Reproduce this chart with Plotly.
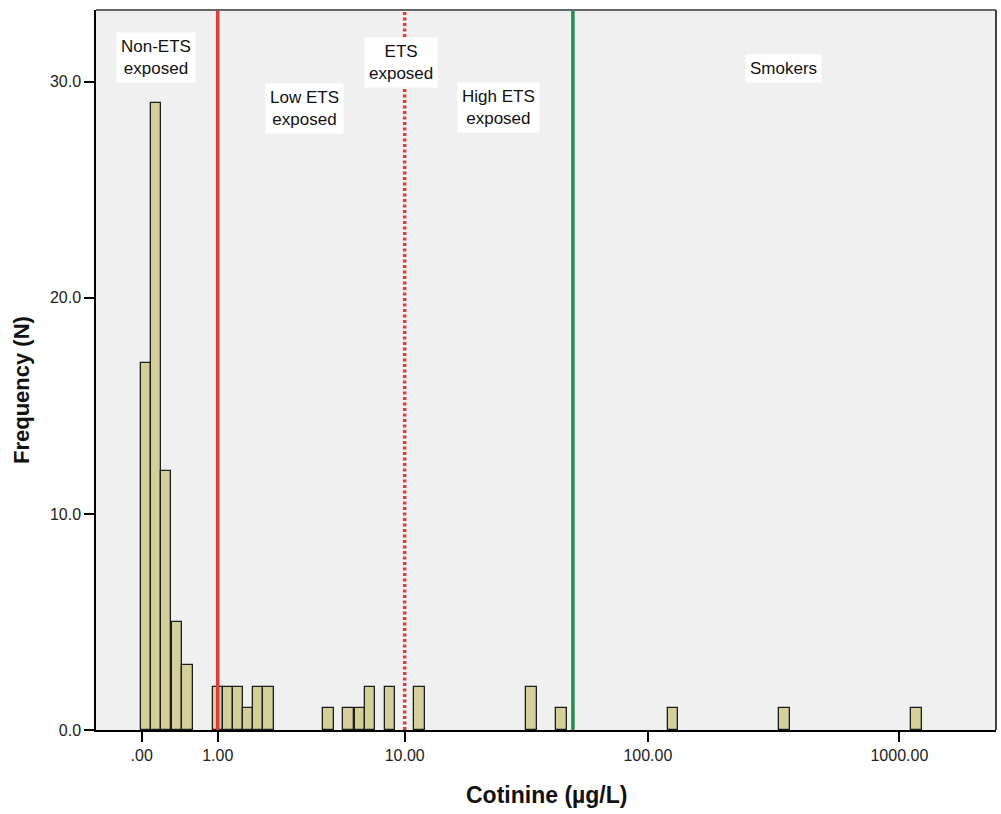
import numpy as np
import plotly.graph_objects as go

# Histogram bins (bin centre, µg/L) and their frequencies
bin_centres_ugL = [0.04, 0.14, 0.25, 0.38, 0.52,
                   1.00, 1.19, 1.40, 1.63, 1.89, 2.18,
                   4.5, 5.6, 6.3, 7.0, 8.6, 11.6,
                   34.0, 45.0, 126.0, 350.0, 1170.0]
frequencies = [17, 29, 12, 5, 3,
               2, 2, 2, 1, 2, 2,
               1, 1, 1, 2, 2, 2,
               2, 1, 1, 1, 1]

# Axis ticks (µg/L) and labels
x_tick_values = [0, 1, 10, 100, 1000]
x_tick_labels = [".00", "1.00", "10.00", "100.00", "1000.00"]
y_tick_values = [0, 10, 20, 30]

# Exposure cut-offs (µg/L)
cutoff_values = [1, 10, 50]
cutoff_colors = ["#e33b3b", "#e33b3b", "#1f9147"]
cutoff_dashes = ["solid", "3px,2.5px", "solid"]

# Region labels
region_labels = ["Non-ETS<br>exposed", "Low ETS<br>exposed", "ETS<br>exposed",
                 "High ETS<br>exposed", "Smokers"]

FONT = "Liberation Sans, Arial, sans-serif"
BIN_W = 0.041  # bin width on the log10(x + 1) scale

# Figure geometry (pixels)
W, H = 1001, 814
L, R, T, B = 96, 5, 10, 84
PW, PH = W - L - R, H - T - B


def tx(v):
    """Cotinine value -> log10(x + 1) axis coordinate."""
    return np.log10(np.asarray(v, dtype=float) + 1.0)


def px(xp):
    return (xp - L) / PW


def py(yp):
    return (T + PH - yp) / PH


fig = go.Figure()
fig.add_trace(go.Bar(
    x=tx(bin_centres_ugL), y=frequencies, width=BIN_W,
    marker=dict(color="#d4cf98", line=dict(color="#1c1c1c", width=1.3)),
    hoverinfo="x+y", showlegend=False,
))

shapes = []
# cut-off lines
for v, c, d in zip(cutoff_values, cutoff_colors, cutoff_dashes):
    shapes.append(dict(type="line", xref="x", yref="paper", x0=float(tx(v)), x1=float(tx(v)),
                       y0=0, y1=1, layer="above", line=dict(color=c, width=3.5, dash=d)))

# label placement: centre x, centre y (pixels)
label_layout = [(156, 58), (304, 109), (401, 62.5), (498.5, 108), (783, 68)]
annotations = []
for text, (cx, cy) in zip(region_labels, label_layout):
    annotations.append(dict(text=text, xref="paper", yref="paper", x=px(cx), y=py(cy),
                            xanchor="center", yanchor="middle", showarrow=False,
                            bgcolor="white", borderpad=4,
                            font=dict(family=FONT, size=17, color="#111")))

# top / right frame
shapes.append(dict(type="line", xref="paper", yref="paper", x0=0, x1=1, y0=1, y1=1,
                   line=dict(color="#666", width=2), layer="above"))
shapes.append(dict(type="line", xref="paper", yref="paper", x0=1, x1=1, y0=0, y1=1,
                   line=dict(color="#444", width=2), layer="above"))

# axis titles
annotations.append(dict(text="<b>Cotinine (µg/L)</b>", xref="paper", yref="paper",
                        x=px(546), y=py(795), xanchor="center", yanchor="middle",
                        showarrow=False, font=dict(family=FONT, size=23, color="#111")))
annotations.append(dict(text="<b>Frequency (N)</b>", xref="paper", yref="paper",
                        x=px(21), y=py(390), xanchor="center", yanchor="middle",
                        textangle=-90, showarrow=False,
                        font=dict(family=FONT, size=22, color="#111")))

axis_common = dict(showgrid=False, zeroline=False, showline=True, linecolor="black",
                   linewidth=1.5, ticks="outside", ticklen=10, tickwidth=1.5,
                   tickcolor="black", tickfont=dict(family=FONT, size=16, color="#222"))

fig.update_layout(
    width=W, height=H, autosize=False,
    margin=dict(l=L, r=R, t=T, b=B, pad=0),
    paper_bgcolor="white", plot_bgcolor="#f0f0f0",
    xaxis=dict(range=[float(tx(0)) - 0.181, 3.383],
               tickvals=tx(x_tick_values), ticktext=x_tick_labels, **axis_common),
    yaxis=dict(range=[0, 33.32], tickvals=y_tick_values, tickformat=".1f", **axis_common),
    shapes=shapes, annotations=annotations, bargap=0,
)

fig.write_html("out.html")
